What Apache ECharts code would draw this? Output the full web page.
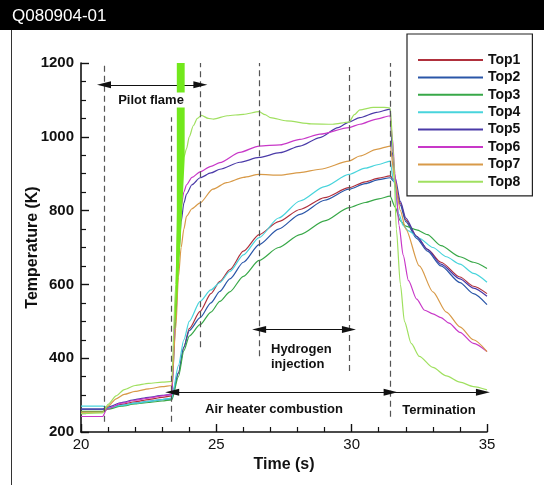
<!DOCTYPE html>
<html><head><meta charset="utf-8">
<script src="https://cdn.jsdelivr.net/npm/echarts@6/dist/echarts.min.js"></script>
<style>html,body{margin:0;padding:0;background:#fff}#c{width:544px;height:485px}</style>
</head><body><div id="c"></div>
<script>
var seriesNames = ['Top1','Top2','Top3','Top4','Top5','Top6','Top7','Top8'];
var seriesColors = ['#b0303c','#2a56a8','#38a848','#48d4dc','#4a3aa8','#c838c8','#d89a48','#a0e060'];

var top1 = [[20,255],[20.8,255],[21,263],[21.5,275],[22,282],[22.5,288],[23,294],[23.35,298],[23.6,360],[23.8,430],[24,480],[24.4,527],[24.8,575],[25.13,608],[25.5,640],[26,690],[26.58,735],[27.3,770],[28.09,803],[29,835],[29.9,862],[30.5,878],[31,888],[31.42,894],[31.55,885],[31.8,820],[32,775],[32.4,730],[32.8,695],[33.3,660],[34,620],[34.5,595],[35,575]];
var top2 = [[20,262],[20.8,262],[21,265],[21.5,272],[22,278],[22.5,283],[23,288],[23.35,290],[23.6,360],[23.8,430],[24,475],[24.4,510],[24.8,550],[25.13,581],[25.5,615],[26,660],[26.58,708],[27.3,750],[28.09,790],[29,828],[29.9,858],[30.5,873],[31,884],[31.42,889],[31.55,880],[31.8,815],[32,770],[32.4,725],[32.8,690],[33.3,650],[34,605],[34.5,575],[35,545]];
var top3 = [[20,256],[20.8,256],[21,262],[21.5,270],[22,276],[22.5,280],[23,284],[23.35,287],[23.6,350],[23.8,420],[24,460],[24.4,491],[24.8,525],[25.13,554],[25.5,580],[26,622],[26.58,665],[27.3,700],[28.09,735],[29,772],[29.9,808],[30.5,822],[31,832],[31.42,839],[31.6,810],[31.8,772],[32,758],[32.4,748],[32.8,735],[33.3,705],[34,675],[34.5,660],[35,643]];
var top4 = [[20,270],[20.8,270],[21,266],[21.5,272],[22,278],[22.5,283],[23,288],[23.35,292],[23.6,380],[23.8,450],[24,500],[24.4,554],[24.8,585],[25.13,605],[25.5,635],[26,680],[26.58,727],[27.3,780],[28.09,826],[29,865],[29.9,898],[30.5,915],[31,925],[31.42,934],[31.55,880],[31.75,790],[31.9,760],[32.1,745],[32.5,725],[33,700],[33.5,675],[34,655],[34.5,630],[35,606]];
var top5 = [[20,262],[20.8,262],[21,268],[21.5,280],[22,288],[22.5,294],[23,299],[23.35,302],[23.5,500],[23.6,670],[23.7,770],[23.8,820],[23.9,845],[24.1,870],[24.4,889],[24.8,902],[25.13,912],[25.87,931],[26.58,944],[27.35,957],[28.09,975],[28.83,998],[29.5,1025],[29.9,1040],[30.3,1052],[30.92,1066],[31.42,1075],[31.5,960],[31.6,890],[31.8,825],[32,780],[32.4,730],[32.8,695],[33.3,655],[34,615],[34.5,590],[35,568]];
var top6 = [[20,242],[20.8,242],[20.95,262],[21.5,278],[22,286],[22.5,292],[23,298],[23.35,302],[23.5,550],[23.6,720],[23.7,810],[23.8,850],[23.9,870],[24.1,890],[24.4,905],[24.8,920],[25.13,930],[25.87,958],[26.58,975],[27.35,978],[28.09,993],[28.83,1007],[29.9,1025],[30.3,1034],[30.92,1048],[31.42,1057],[31.5,1000],[31.6,900],[31.75,760],[31.9,680],[32.1,610],[32.4,560],[32.7,530],[33,520],[33.3,510],[33.6,495],[34,470],[34.5,440],[35,418]];
var top7 = [[20,254],[20.8,254],[21,270],[21.3,290],[21.6,302],[22,310],[22.5,317],[23,323],[23.35,326],[23.5,480],[23.6,620],[23.7,700],[23.8,750],[23.9,785],[24.1,805],[24.4,821],[24.87,858],[25.38,876],[26,890],[26.58,898],[27.35,896],[28.09,903],[28.83,912],[29.9,934],[30.3,948],[30.92,966],[31.42,975],[31.6,880],[31.8,800],[32,750],[32.5,650],[33,580],[33.5,525],[34,485],[34.5,450],[35,418]];
var top8 = [[20,250],[20.8,252],[21,275],[21.3,298],[21.6,315],[22,326],[22.5,332],[23,335],[23.35,337],[23.5,600],[23.6,800],[23.7,900],[23.8,945],[23.9,968],[24,1000],[24.15,1030],[24.3,1050],[24.45,1058],[24.7,1050],[24.9,1048],[25.4,1057],[26,1061],[26.58,1068],[26.8,1060],[27,1052],[27.6,1043],[28.5,1035],[29.3,1034],[29.9,1040],[30.1,1060],[30.3,1073],[30.8,1080],[31.2,1080],[31.42,1078],[31.55,950],[31.65,750],[31.8,600],[31.95,500],[32.2,440],[32.5,405],[33,375],[33.5,352],[34,335],[34.5,323],[35,314]];
var seriesData = [top1,top2,top3,top4,top5,top6,top7,top8];

var xTicks = [20,25,30,35];
var yTicks = [200,400,600,800,1000,1200];

// dashed phase lines: [time, fromK, toK]
var phaseLines = [[20.85,228,1200],[23.35,228,1053],[24.41,430,1200],[26.58,405,1200],[29.9,365,1189],[31.44,241,1200]];
// arrows: [t0, t1, K, bothEnds]
var arrows = [[20.85,24.41,1141,true],[26.58,29.9,478,true],[23.37,31.44,308,true],[31.44,34.85,308,false]];
// pilot flame marker polygon (time, K)
var pilotPoly = [[23.54,1200],[23.83,1200],[23.83,940],[23.69,730],[23.55,560],[23.48,480],[23.45,480],[23.5,600],[23.54,800]];

var chart = echarts.init(document.getElementById('c'));
var series = seriesData.map(function(d,i){
  return {name: seriesNames[i], type:'line', data:d, symbol:'none', smooth:0.25, smoothMonotone:'x',
    lineStyle:{width:1.2,color:seriesColors[i]}, itemStyle:{color:seriesColors[i]}, z:3, animation:false};
});
var mlData = phaseLines.map(function(p){
  return [{coord:[p[0],p[1]],symbol:'none'},{coord:[p[0],p[2]],symbol:'none'}];
});
var arrData = arrows.map(function(a){
  return [{coord:[a[0],a[2]],symbol:a[3]?'triangle':'none'},{coord:[a[1],a[2]],symbol:'triangle'}];
});
series.push({type:'line',data:[],silent:true,animation:false,
  markLine:{silent:true,animation:false,symbol:'none',label:{show:false},
    lineStyle:{type:[6,4],color:'#555',width:1.2},data:mlData}});
series.push({type:'line',data:[],silent:true,animation:false,
  markLine:{silent:true,animation:false,symbolSize:[7,14],label:{show:false},
    lineStyle:{type:'solid',color:'#111',width:1.2},itemStyle:{color:'#111'},data:arrData}});
series.push({type:'custom',silent:true,animation:false,z:5,data:[0],
  renderItem:function(params,api){
    var pts = pilotPoly.map(function(p){return api.coord(p);});
    return {type:'polygon',shape:{points:pts},style:{fill:'#72e81c'}};
  }});

var txt = {fontFamily:'Arial, Liberation Sans, sans-serif', fontWeight:'bold', fontSize:13, fill:'#111'};
function T(x,y,s,align,bg){
  var st = Object.assign({}, txt, {text:s, align:align||'center', verticalAlign:'middle'});
  if(bg){ st.backgroundColor='#fff'; st.padding=[1,2]; }
  return {type:'text', x:x, y:y, z:100, style:st};
}

chart.setOption({
  animation:false,
  backgroundColor:'#fff',
  grid:{left:81,right:57,top:63,bottom:53},
  xAxis:{type:'value',min:20,max:35,interval:5,
    axisLine:{lineStyle:{color:'#111',width:1.6}},
    axisTick:{inside:true,length:8,lineStyle:{color:'#111',width:1.4}},
    minorTick:{show:true,splitNumber:5,length:5,lineStyle:{color:'#111',width:1.2}},
    splitLine:{show:false},
    axisLabel:{color:'#111',fontSize:15,fontFamily:'Arial, Liberation Sans',margin:5,
      formatter:function(v){return xTicks.indexOf(v)>=0?String(v):'';}},
    name:'Time (s)',nameLocation:'middle',nameGap:24,
    nameTextStyle:{color:'#111',fontSize:16,fontWeight:'bold',fontFamily:'Arial, Liberation Sans'}},
  yAxis:{type:'value',min:200,max:1200,interval:200,
    axisLine:{show:true,lineStyle:{color:'#111',width:1.6}},
    axisTick:{show:true,inside:true,length:8,lineStyle:{color:'#111',width:1.4}},
    minorTick:{show:true,splitNumber:4,length:5,lineStyle:{color:'#111',width:1.2}},
    splitLine:{show:false},
    axisLabel:{color:'#111',fontSize:15,fontWeight:'bold',fontFamily:'Arial, Liberation Sans',margin:7,
      formatter:function(v){return yTicks.indexOf(v)>=0?String(v):'';}},
    name:'Temperature (K)',nameLocation:'middle',nameGap:40,nameRotate:90,nameMoveOverlap:false,
    nameTextStyle:{color:'#111',fontSize:16,fontWeight:'bold',fontFamily:'Arial, Liberation Sans'}},
  legend:{orient:'vertical',left:407,top:34,width:131,
    padding:[19,12,7,11],itemWidth:65,itemHeight:2,itemGap:3.4,icon:'rect',
    backgroundColor:'#fff',borderColor:'#222',borderWidth:1.2,
    data:seriesNames,
    textStyle:{color:'#111',fontSize:14,lineHeight:14,fontWeight:'bold',fontFamily:'Arial, Liberation Sans'}},
  graphic:[
    {type:'rect',z:100,shape:{x:0,y:0,width:544,height:30},style:{fill:'#000'}},
    {type:'text',z:101,x:12,y:16,style:{text:'Q080904-01',fill:'#fff',fontSize:17,fontFamily:'Arial, Liberation Sans',verticalAlign:'middle'}},
    {type:'line',z:100,shape:{x1:11.5,y1:30,x2:11.5,y2:485},style:{stroke:'#333',lineWidth:1}},
    T(151,100,'Pilot flame','center',true),
    T(271,349,'Hydrogen','left'),
    T(271,364,'injection','left'),
    T(274,409,'Air heater combustion','center'),
    T(439,410,'Termination','center')
  ],
  series:series
});
</script></body></html>
